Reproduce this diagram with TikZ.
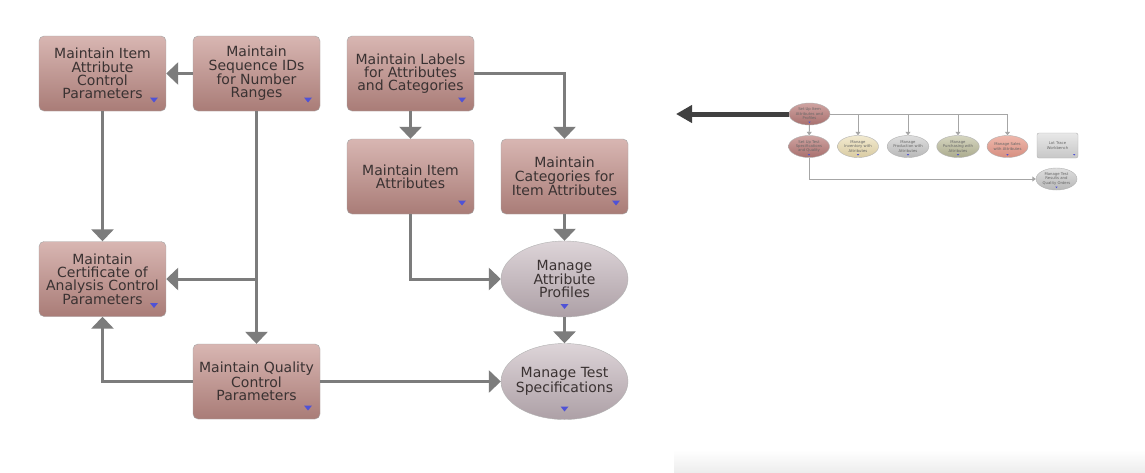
\documentclass[tikz,border=0pt]{standalone}
\usepackage{fontspec}
\setmainfont{DejaVu Sans}
\usepackage{tikz}
\usetikzlibrary{arrows.meta,shapes.geometric}

\definecolor{boxtop}{HTML}{D8B6B2}
\definecolor{boxbot}{HTML}{A97C77}
\definecolor{ovaltop}{HTML}{DDD4D8}
\definecolor{ovalbot}{HTML}{ADA0A6}
\definecolor{edgegray}{HTML}{7C7C7C}
\definecolor{markblue}{HTML}{4F52D6}
\definecolor{textdark}{HTML}{3A3232}
\definecolor{setuptop}{HTML}{CFA3A1}
\definecolor{setupbot}{HTML}{A8706E}
\definecolor{invtop}{HTML}{F2EAD0}
\definecolor{invbot}{HTML}{D9CBA2}
\definecolor{graytop}{HTML}{DEDEDE}
\definecolor{graybot}{HTML}{B8B8B8}
\definecolor{purchtop}{HTML}{D6D6C0}
\definecolor{purchbot}{HTML}{ABAB8E}
\definecolor{salestop}{HTML}{EFB8AC}
\definecolor{salesbot}{HTML}{D68E80}

\tikzset{
    task/.style={rectangle, rounded corners=5pt, draw=black!35, top color=boxtop, bottom color=boxbot,
        minimum width=127pt, minimum height=75pt, inner sep=0pt, align=center, text=textdark,
        font=\fontsize{14}{13.3}\selectfont,
        path picture={\fill[markblue, sharp corners] ([xshift=-16pt,yshift=13.5pt]path picture bounding box.south east)
            -- ++(8pt,0) -- ++(-4pt,-5pt) -- cycle;}},
    oval/.style={ellipse, draw=black!30, top color=ovaltop, bottom color=ovalbot,
        minimum width=127pt, minimum height=76pt, inner xsep=-12pt, inner ysep=0pt, align=center,
        text=textdark, font=\fontsize{14}{13.3}\selectfont,
        path picture={\fill[markblue] ([xshift=-4pt,yshift=13pt]path picture bounding box.south)
            -- ++(8pt,0) -- ++(-4pt,-5pt) -- cycle;}},
    flow/.style={draw=edgegray, line width=3pt, -{Triangle[width=22pt,length=12pt]}},
    mini/.style={ellipse, draw=black!30, minimum width=41pt, minimum height=22pt, inner sep=0pt,
        align=center, text=black!60, font=\fontsize{3.8}{4.4}\selectfont,
        path picture={\fill[markblue, sharp corners] ([xshift=-1.2pt,yshift=3.5pt]path picture bounding box.south)
            -- ++(2.4pt,0) -- ++(-1.2pt,-1.6pt) -- cycle;}},
    minibox/.style={rectangle, rounded corners=2pt, draw=black!30, minimum width=41pt, minimum height=25pt,
        inner sep=0pt, align=center, text=black!60, font=\fontsize{3.8}{4.4}\selectfont,
        top color=black!9, bottom color=black!22,
        path picture={\fill[markblue, sharp corners] ([xshift=-5pt,yshift=4pt]path picture bounding box.south east)
            -- ++(2.4pt,0) -- ++(-1.2pt,-1.6pt) -- cycle;}},
    miniflow/.style={draw=black!35, line width=1pt, -{Triangle[width=5pt,length=3.5pt]}},
    jump/.style={draw=black!75, line width=5pt, -{Triangle[width=17pt,length=16pt]}}
}

\begin{document}
\begin{tikzpicture}[x=1pt,y=-1pt]
            \useasboundingbox (0,0) rectangle (1145,472);
            \fill[white] (0,0) rectangle (1145,472);
            \fill[top color=white, bottom color=black!7] (674,450) rectangle (1145,472);

            \node[task] (itemctl) at (102.5,73.5) {Maintain Item\\Attribute\\Control\\Parameters};
            \node[task] (seqid) at (256.5,73.5) {Maintain\\Sequence IDs\\for Number\\Ranges};
            \node[task] (labels) at (410.5,73.5) {Maintain Labels\\for Attributes\\and Categories};
            \node[task] (itematt) at (410.5,176.5) {Maintain Item\\Attributes};
            \node[task] (categ) at (564.5,176.5) {Maintain\\Categories for\\Item Attributes};
            \node[task] (coa) at (102.5,279) {Maintain\\Certificate of\\Analysis Control\\Parameters};
            \node[task] (qc) at (256.5,381.5) {Maintain Quality\\Control\\Parameters};
            \node[oval] (profiles) at (564.5,279) {Manage\\Attribute\\Profiles};
            \node[oval] (testspec) at (564.5,381.5) {Manage Test\\Specifications};

            \draw[flow] (seqid) -- (itemctl);
            \draw[flow] (itemctl) -- (coa);
            \draw[flow] (seqid) -- (qc);
            \draw[flow] (seqid |- coa) -- (coa);
            \draw[flow] (labels) -- (itematt);
            \draw[flow] (labels) -| (categ);
            \draw[flow] (itematt) |- (profiles);
            \draw[flow] (categ) -- (profiles);
            \draw[flow] (profiles) -- (testspec);
            \draw[flow] (qc) -- (testspec);
            \draw[flow] (qc) -| (coa);

            \node[mini, top color=setuptop, bottom color=setupbot] (setitem) at (809.5,114) {Set Up Item\\Attributes and\\Profiles};
            \node[mini, top color=setuptop, bottom color=setupbot] (settest) at (809,146.5) {Set Up Test\\Specifications\\and Quality};
            \node[mini, top color=invtop, bottom color=invbot] (inv) at (858,146.5) {Manage\\Inventory with\\Attributes};
            \node[mini, top color=graytop, bottom color=graybot] (prod) at (908,146.5) {Manage\\Production with\\Attributes};
            \node[mini, top color=purchtop, bottom color=purchbot] (purch) at (958,146.5) {Manage\\Purchasing with\\Attributes};
            \node[mini, top color=salestop, bottom color=salesbot] (sales) at (1007.5,146.5) {Manage Sales\\with Attributes};
            \node[minibox] (trace) at (1057.5,145.5) {Lot Trace\\Workbench};
            \node[mini, top color=graytop, bottom color=graybot] (results) at (1056.5,179) {Manage Test\\Results and\\Quality Orders};
            \coordinate (back) at (676,114);

            \draw[jump] (setitem) -- (back);
            \draw[miniflow] (setitem) -- (settest);
            \draw[miniflow] (setitem) -| (sales);
            \draw[miniflow] (inv |- setitem) -- (inv);
            \draw[miniflow] (prod |- setitem) -- (prod);
            \draw[miniflow] (purch |- setitem) -- (purch);
            \draw[miniflow] (settest) |- (results);
        \end{tikzpicture}
\end{document}
